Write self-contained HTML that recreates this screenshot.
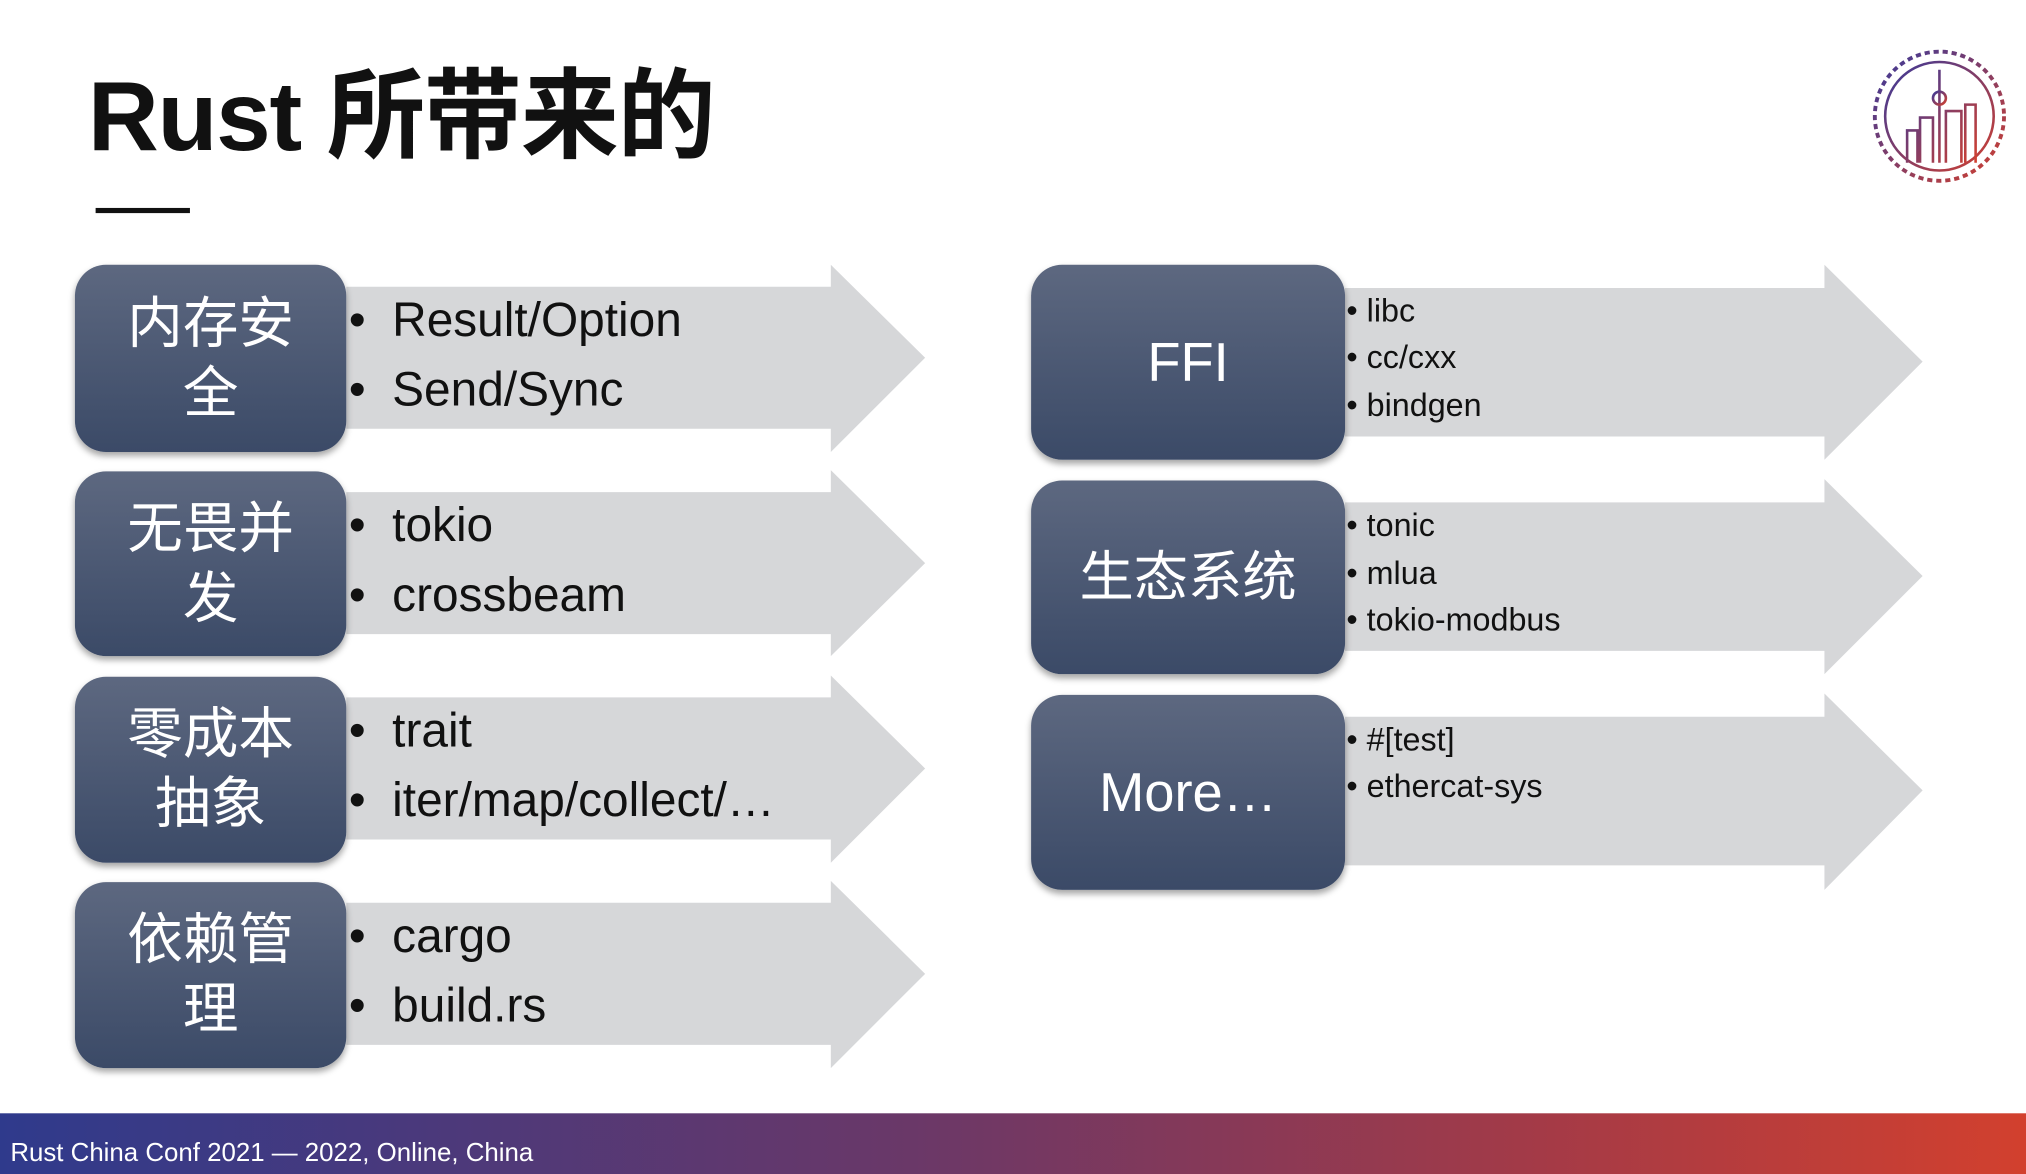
<!DOCTYPE html>
<html><head><meta charset="utf-8"><style>
html,body{margin:0;padding:0;background:#fff;overflow:hidden}
#w{position:absolute;left:0;top:0;width:1568px;height:909px;transform:scale(1.29209,1.29153);transform-origin:0 0;font-family:"Liberation Sans","Noto Sans CJK SC",sans-serif}
.a{position:absolute}
.box{position:absolute;border-radius:24px;background:linear-gradient(#5d6880,#3b4a67);box-shadow:0 3px 5px rgba(0,0,0,.35);color:#fff;display:flex;align-items:center;justify-content:center;text-align:center;line-height:54px}
.t{position:absolute;color:#111;white-space:nowrap}
</style></head><body><div id="w">
<div class="t" style="left:68px;top:28px;font-size:76px;font-weight:bold;letter-spacing:-1px">Rust 所带来的</div>
<div class="a" style="left:74px;top:161px;width:73px;height:4px;background:#111"></div>
<svg class="a" style="left:1446px;top:36px" width="110" height="110" viewBox="0 0 110 110">
<defs><linearGradient id="g" x1="0" y1="0" x2="1" y2="1"><stop offset="0" stop-color="#3a3a9a"/><stop offset="1" stop-color="#d04030"/></linearGradient></defs>
<circle cx="55" cy="54" r="50" fill="none" stroke="url(#g)" stroke-width="3" stroke-dasharray="4 3"/>
<circle cx="55" cy="54" r="42" fill="none" stroke="url(#g)" stroke-width="2"/>
<path d="M55 18V90M40 90V55h10v35M60 90V50h12v40M30 90V65h8v25M75 90V45h8v45" fill="none" stroke="url(#g)" stroke-width="2"/>
<circle cx="55" cy="40" r="5" fill="none" stroke="url(#g)" stroke-width="2"/>
</svg>
<svg class="a" style="left:0;top:0" width="1568" height="909">
<g fill="#d6d7d9">
<polygon points="268,222 643,222 643,205 716,277 643,350 643,332 268,332"/>
<polygon points="268,381 643,381 643,364 716,436 643,508 643,491 268,491"/>
<polygon points="268,540 643,540 643,523 716,595 643,668 643,650 268,650"/>
<polygon points="268,699 643,699 643,682 716,754 643,827 643,809 268,809"/>
<polygon points="1041,223 1412,223 1412,205 1488,280 1412,356 1412,338 1041,338"/>
<polygon points="1041,389 1412,389 1412,371 1488,446 1412,522 1412,504 1041,504"/>
<polygon points="1041,555 1412,555 1412,537 1488,612 1412,689 1412,670 1041,670"/>
</g></svg>
<div class="box" style="left:58px;top:205px;width:210px;height:145px;font-size:43px">内存安<br>全</div>
<div class="box" style="left:58px;top:365px;width:210px;height:143px;font-size:43px">无畏并<br>发</div>
<div class="box" style="left:58px;top:524px;width:210px;height:144px;font-size:43px">零成本<br>抽象</div>
<div class="box" style="left:58px;top:683px;width:210px;height:144px;font-size:43px">依赖管<br>理</div>
<div class="box" style="left:798px;top:205px;width:243px;height:151px;font-size:42px">FFI</div>
<div class="box" style="left:798px;top:372px;width:243px;height:150px;font-size:42px">生态系统</div>
<div class="box" style="left:798px;top:538px;width:243px;height:151px;font-size:42px">More…</div>
<div style="font-size:37px">
<div class="t" style="left:270px;top:227px">•&nbsp;&nbsp;Result/Option</div>
<div class="t" style="left:270px;top:281px">•&nbsp;&nbsp;Send/Sync</div>
<div class="t" style="left:270px;top:386px">•&nbsp;&nbsp;tokio</div>
<div class="t" style="left:270px;top:440px">•&nbsp;&nbsp;crossbeam</div>
<div class="t" style="left:270px;top:545px">•&nbsp;&nbsp;trait</div>
<div class="t" style="left:270px;top:599px">•&nbsp;&nbsp;iter/map/collect/…</div>
<div class="t" style="left:270px;top:704px">•&nbsp;&nbsp;cargo</div>
<div class="t" style="left:270px;top:758px">•&nbsp;&nbsp;build.rs</div>
</div>
<div style="font-size:25px">
<div class="t" style="left:1042px;top:227px">• libc</div>
<div class="t" style="left:1042px;top:263px">• cc/cxx</div>
<div class="t" style="left:1042px;top:300px">• bindgen</div>
<div class="t" style="left:1042px;top:393px">• tonic</div>
<div class="t" style="left:1042px;top:430px">• mlua</div>
<div class="t" style="left:1042px;top:466px">• tokio-modbus</div>
<div class="t" style="left:1042px;top:559px">• #[test]</div>
<div class="t" style="left:1042px;top:595px">• ethercat-sys</div>
</div>
<div class="a" style="left:0;top:862px;width:1568px;height:47px;background:linear-gradient(90deg,#2f3a8c,#6a3868 45%,#a23a48 75%,#d2402e)"></div>
<div class="t" style="left:8px;top:882px;font-size:20px;color:#fff">Rust China Conf 2021 — 2022, Online, China</div>
</div></body></html>
